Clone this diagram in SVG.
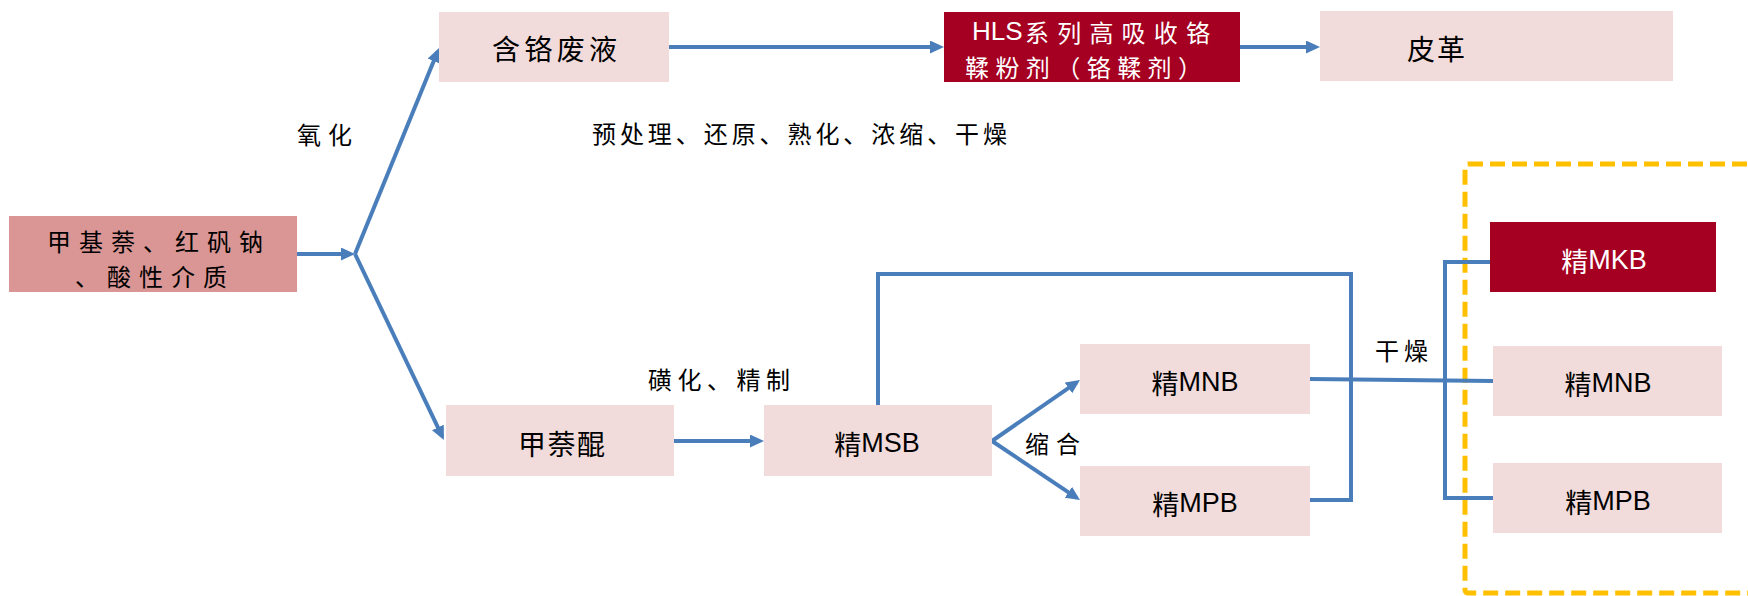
<svg xmlns="http://www.w3.org/2000/svg" width="1748" height="596" viewBox="0 0 1748 596">
<style>
.pink{fill:#F2DCDB}
.red{fill:#A50021}
.rose{fill:#D99694}
text{font-family:"Noto Sans CJK SC","Liberation Sans",sans-serif;dominant-baseline:central;fill:#000}
.b{font-size:28px}
.r{font-size:24px}
.l{font-size:24px}
.w{fill:#fff;font-size:24px}
.m{font-size:27px;text-anchor:middle}
.lat{font-family:"Liberation Sans Narrow","Liberation Sans",sans-serif;font-size:27px}
.c{fill:none;stroke:#4A7EBB;stroke-width:4}
</style>
<defs>
<marker id="ah" markerUnits="userSpaceOnUse" markerWidth="16" markerHeight="14" refX="10" refY="6.5" orient="auto">
<path d="M0,0 L14,6.5 L0,13 z" fill="#4A7EBB"/>
</marker>
</defs>
<rect x="1465" y="164" width="300" height="429" rx="3" fill="none" stroke="#FFC000" stroke-width="5" stroke-dasharray="15 7"/>
<g id="connectors">
<line class="c" x1="297" y1="254" x2="351" y2="254" marker-end="url(#ah)"/>
<line class="c" x1="355" y1="254" x2="437.5" y2="51.7" marker-end="url(#ah)"/>
<line class="c" x1="355" y1="254" x2="442.2" y2="436.4" marker-end="url(#ah)"/>
<line class="c" x1="669" y1="47" x2="940" y2="47" marker-end="url(#ah)"/>
<line class="c" x1="1240" y1="47" x2="1316" y2="47" marker-end="url(#ah)"/>
<line class="c" x1="674" y1="441" x2="760" y2="441" marker-end="url(#ah)"/>
<line class="c" x1="992" y1="441" x2="1076.7" y2="382.3" marker-end="url(#ah)"/>
<line class="c" x1="992" y1="441" x2="1076.7" y2="497.8" marker-end="url(#ah)"/>
<polyline class="c" points="878,405 878,274 1351,274 1351,500 1310,500"/>
<polyline class="c" points="1310,379 1493,381"/>
<polyline class="c" points="1490,262 1445,262 1445,498 1493,498"/>
</g>
<g id="n-raw">
<rect class="rose" x="9" y="216" width="288" height="76"/>
<text class="r"><tspan x="47" y="240" textLength="216" lengthAdjust="spacing">甲基萘、红矾钠</tspan><tspan x="75" y="275" textLength="152" lengthAdjust="spacing">、酸性介质</tspan></text>
</g>
<g id="n-waste">
<rect class="pink" x="439" y="12" width="230" height="70"/>
<text class="b" x="492" y="48" textLength="125" lengthAdjust="spacing">含铬废液</text>
</g>
<g id="n-hls">
<rect class="red" x="944" y="12" width="296" height="70"/>
<text class="w"><tspan x="972" y="31" font-family="Liberation Sans Narrow, Liberation Sans, sans-serif" font-size="26">HLS</tspan><tspan x="1025" y="31" textLength="185" lengthAdjust="spacing">系列高吸收铬</tspan><tspan x="965" y="66" textLength="237" lengthAdjust="spacing">鞣粉剂（铬鞣剂）</tspan></text>
</g>
<g id="n-leather">
<rect class="pink" x="1320" y="11" width="353" height="70"/>
<text class="b" x="1407" y="48" textLength="58" lengthAdjust="spacing">皮革</text>
</g>
<g id="n-mnq">
<rect class="pink" x="446" y="405" width="228" height="71"/>
<text class="b" x="518" y="443" textLength="87" lengthAdjust="spacing">甲萘醌</text>
</g>
<g id="n-msb">
<rect class="pink" x="764" y="405" width="228" height="71"/>
<text class="m" x="877" y="443">精<tspan class="lat">MSB</tspan></text>
</g>
<g id="n-mnb">
<rect class="pink" x="1080" y="344" width="230" height="70"/>
<text class="m" x="1195" y="382">精<tspan class="lat">MNB</tspan></text>
</g>
<g id="n-mpb">
<rect class="pink" x="1080" y="466" width="230" height="70"/>
<text class="m" x="1195" y="503">精<tspan class="lat">MPB</tspan></text>
</g>
<g id="n-mkb2">
<rect class="red" x="1490" y="222" width="226" height="70"/>
<text class="m" style="fill:#fff" x="1604" y="260">精<tspan class="lat">MKB</tspan></text>
</g>
<g id="n-mnb2">
<rect class="pink" x="1493" y="346" width="229" height="70"/>
<text class="m" x="1608" y="383">精<tspan class="lat">MNB</tspan></text>
</g>
<g id="n-mpb2">
<rect class="pink" x="1493" y="463" width="229" height="70"/>
<text class="m" x="1608" y="501">精<tspan class="lat">MPB</tspan></text>
</g>
<g id="labels">
<text class="l" x="297" y="133" textLength="55" lengthAdjust="spacing">氧化</text>
<text class="l" x="592" y="132" textLength="415" lengthAdjust="spacing">预处理、还原、熟化、浓缩、干燥</text>
<text class="l" x="648" y="378" textLength="142" lengthAdjust="spacing">磺化、精制</text>
<text class="l" x="1025" y="442" textLength="55" lengthAdjust="spacing">缩合</text>
<text class="l" x="1375" y="349" textLength="53" lengthAdjust="spacing">干燥</text>
</g>
</svg>
